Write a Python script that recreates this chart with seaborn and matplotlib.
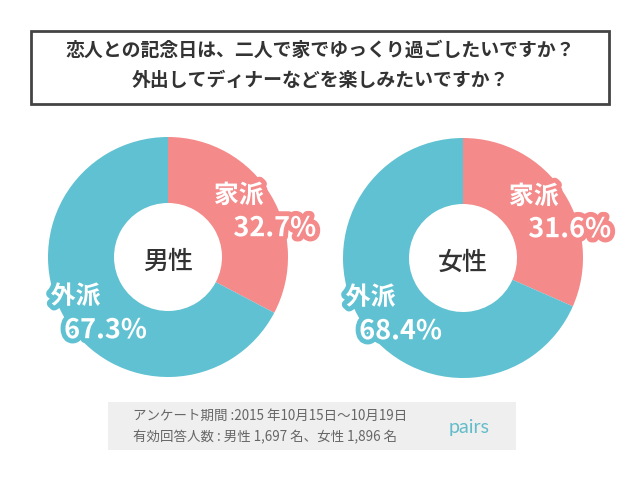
import matplotlib.pyplot as plt
import matplotlib.patheffects as pe
from matplotlib.patches import Rectangle
import seaborn as sns

# data
genders = ['男性', '女性']
home_pct = [32.7, 31.6]
out_pct = [67.3, 68.4]
slice_labels = ['家派', '外派']
title_lines = ['恋人との記念日は、二人で家でゆっくり過ごしたいですか？',
               '外出してディナーなどを楽しみたいですか？']
note_lines = ['アンケート期間 :2015 年10月15日〜10月19日',
              '有効回答人数 : 男性 1,697 名、女性 1,896 名']

sns.set_theme(style='white')
plt.rcParams['font.family'] = ['Noto Sans CJK JP', 'DejaVu Sans']

pink, teal = '#F48A8A', '#5FC1D1'
W, H = 640, 490
fig = plt.figure(figsize=(6.4, 4.9), dpi=100)
fig.patch.set_facecolor('white')

# title box
fig.patches.append(Rectangle((31 / W, 1 - 104 / H), 578 / W, 73 / H, transform=fig.transFigure,
                             fill=False, edgecolor='#444444', linewidth=2))
fig.text(0.5, 1 - 50 / H, title_lines[0], ha='center', va='center', fontsize=13.6,
         fontweight='bold', color='#333333')
fig.text(0.5, 1 - 80 / H, title_lines[1], ha='center', va='center', fontsize=13.6,
         fontweight='bold', color='#333333')

centers = [(168, 257), (463, 258)]
R = 120
for i, (cx, cy) in enumerate(centers):
    ax = fig.add_axes([(cx - R) / W, (H - cy - R) / H, 2 * R / W, 2 * R / H])
    ax.pie([home_pct[i], out_pct[i]], colors=[pink, teal], startangle=90, counterclock=False,
           radius=1, wedgeprops=dict(width=0.55, edgecolor='none'))
    ax.set_xlim(-1, 1)
    ax.set_ylim(-1, 1)
    ax.set_aspect('equal')
    ax.axis('off')
    ax.text(0, -0.04, genders[i], ha='center', va='center', fontsize=18, fontweight='medium',
            color='#333333')

    def outlined(x, y, s, c, size):
        ax.text(x, y, s, ha='center', va='center', fontsize=size, fontweight='bold',
                color='white', clip_on=False,
                path_effects=[pe.withStroke(linewidth=7, foreground=c)])

    outlined(0.59, 0.51, slice_labels[0], pink, 18)
    outlined(0.89, 0.24, f'{home_pct[i]:.1f}%', pink, 19.5)
    outlined(-0.77, -0.33, slice_labels[1], teal, 18)
    outlined(-0.52, -0.61, f'{out_pct[i]:.1f}%', teal, 19.5)

# footer box
fig.patches.append(Rectangle((108 / W, 1 - 450 / H), 408 / W, 48 / H, transform=fig.transFigure,
                             facecolor='#EFEFEF', edgecolor='none'))
fig.text(133 / W, 1 - 416 / H, note_lines[0], ha='left', va='center', fontsize=9.7, color='#666666')
fig.text(133 / W, 1 - 437 / H, note_lines[1], ha='left', va='center', fontsize=9.7, color='#666666')
fig.text(449 / W, 1 - 427 / H, 'pairs', ha='left', va='center', fontsize=14, color='#62BCC9',
         family=['Lato', 'DejaVu Sans'])

fig.savefig('out.png', dpi=100)
